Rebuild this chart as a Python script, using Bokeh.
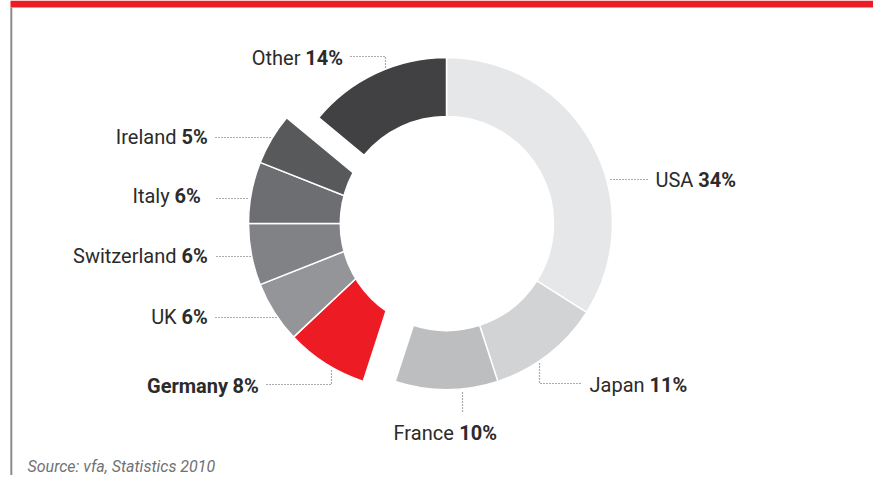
import math
from bokeh.plotting import figure
from bokeh.models import ColumnDataSource, Range1d
from bokeh.core.properties import value
from bokeh.embed import file_html
from bokeh.resources import INLINE

# ---- data ----
countries = ["USA", "Japan", "France", "Germany", "UK", "Switzerland", "Italy", "Ireland", "Other"]
shares = [34, 11, 10, 8, 6, 6, 6, 5, 14]
pct_labels = ["34%", "11%", "10%", "8%", "6%", "6%", "6%", "5%", "14%"]
colors = ["#e6e7e8", "#d1d3d4", "#bcbec0", "#ed1c24", "#939598",
          "#808285", "#6d6e71", "#58595b", "#414042"]
pulled_out = [False, False, False, True, True, True, True, True, False]
source_note = "Source: vfa, Statistics 2010"

# ---- layout (pixels of the page) ----
CX, CY = 446, 223
R_OUT, R_IN = 166, 107
PULL = 32
FONT = "Roboto"
FS = 20

# label anchors: (x, y, alignment)
label_x = [655, 589, 444.5, 258, 207, 207, 200, 207, 342]
label_y = [179, 384, 432, 385, 316, 255, 195, 136, 57]
label_align = ["left", "left", "center", "right", "right", "right", "right", "right", "right"]
leader_x = [[610, 647], [539, 539, 580], [462, 462], [331, 331, 265], [276, 214],
            [250, 214], [247, 215], [270, 214], [385, 385, 348]]
leader_y = [[179, 179], [363, 383, 383], [392, 413], [370, 384, 384], [317, 317],
            [256, 256], [198, 198], [137, 137], [67, 56, 56]]

# approximate Roboto advance widths (em)
REG = {' ': .248, '%': .733, 'A': .652, 'F': .553, 'G': .680, 'I': .272, 'J': .552, 'O': .688,
       'S': .594, 'U': .647, 'K': .628, 'a': .543, 'c': .523, 'd': .563, 'e': .530, 'h': .551,
       'i': .243, 'l': .243, 'm': .877, 'n': .552, 'o': .570, 'p': .561, 'r': .338, 's': .516,
       't': .327, 'w': .751, 'y': .473, 'z': .496, 'f': .347, 'g': .561}
BOLD = dict(REG)
BOLD.update({'%': .733, 'G': .681, 'e': .535, 'r': .353, 'm': .878, 'a': .541, 'n': .555, 'y': .487})


def width(s, bold=False):
    t = BOLD if bold else REG
    return sum(t.get(c, .562 if c.isdigit() else .55) for c in s) * FS


# ---- wedge geometry from shares ----
total = float(sum(shares))
starts, ends, xs = [], [], []
acc = 0.0
for s, pulled in zip(shares, pulled_out):
    a0 = acc / total * 2 * math.pi
    acc += s
    a1 = acc / total * 2 * math.pi
    starts.append(math.pi / 2 - a0)
    ends.append(math.pi / 2 - a1)
    xs.append(CX - PULL if pulled else CX)
inner = [R_IN - 50 if pl else R_IN for pl in pulled_out]

wedges = ColumnDataSource(dict(x=xs, y=[-CY] * len(xs), start=starts, end=ends,
                               inner=inner, outer=[R_OUT] * len(xs), color=colors))

W, H = 873, 475
p = figure(width=W, height=H, x_range=Range1d(0, W), y_range=Range1d(-H, 0),
           output_backend="svg", toolbar_location=None, x_axis_type=None, y_axis_type=None,
           min_border=0, outline_line_color=None, background_fill_color="white")

# decorations
p.quad(left=10, right=W, top=0, bottom=-7, color="#ed1c24", line_color=None)
p.segment(x0=10.8, y0=-7, x1=10.8, y1=-H, line_color="#8c8c8c", line_width=2)

p.annular_wedge(x="x", y="y", inner_radius="inner", outer_radius="outer",
                start_angle="start", end_angle="end", direction="clock",
                fill_color="color", line_color="white", line_width=1.5, source=wedges)
# hole of the ring
p.circle(x=[CX], y=[-CY], radius=R_IN, fill_color="white", line_color=None)

# leader lines
p.multi_line(xs=leader_x, ys=[[-v for v in ys] for ys in leader_y],
             line_color="#58595b", line_width=1.2, line_dash="1 2")

# labels: name regular + percentage bold
name_x, pct_x, name_style = [], [], []
for i, (n, pc) in enumerate(zip(countries, pct_labels)):
    nb = countries[i] == "Germany"
    wn = width(n + " ", nb)
    wp = width(pc, True)
    if label_align[i] == "left":
        x0 = label_x[i]
    elif label_align[i] == "right":
        x0 = label_x[i] - wn - wp
    else:
        x0 = label_x[i] - (wn + wp) / 2
    name_x.append(x0)
    pct_x.append(x0 + wn)
    name_style.append("bold" if nb else "normal")

lab = ColumnDataSource(dict(nx=name_x, px=pct_x, y=[-v for v in label_y],
                            name=countries, pct=pct_labels, style=name_style))
p.text(x="nx", y="y", text="name", source=lab, text_font=value(FONT),
       text_font_size=f"{FS}px", text_font_style="style", text_color="#2b2b2b",
       text_align="left", text_baseline="middle")
p.text(x="px", y="y", text="pct", source=lab, text_font=value(FONT),
       text_font_size=f"{FS}px", text_font_style="bold", text_color="#2b2b2b",
       text_align="left", text_baseline="middle")

p.text(x=[27], y=[-466], text=[source_note], text_font=value(FONT),
       text_font_size="16px", text_font_style="italic", text_color="#707275",
       text_align="left", text_baseline="middle")

open("out.html", "w").write(file_html(p, INLINE))
